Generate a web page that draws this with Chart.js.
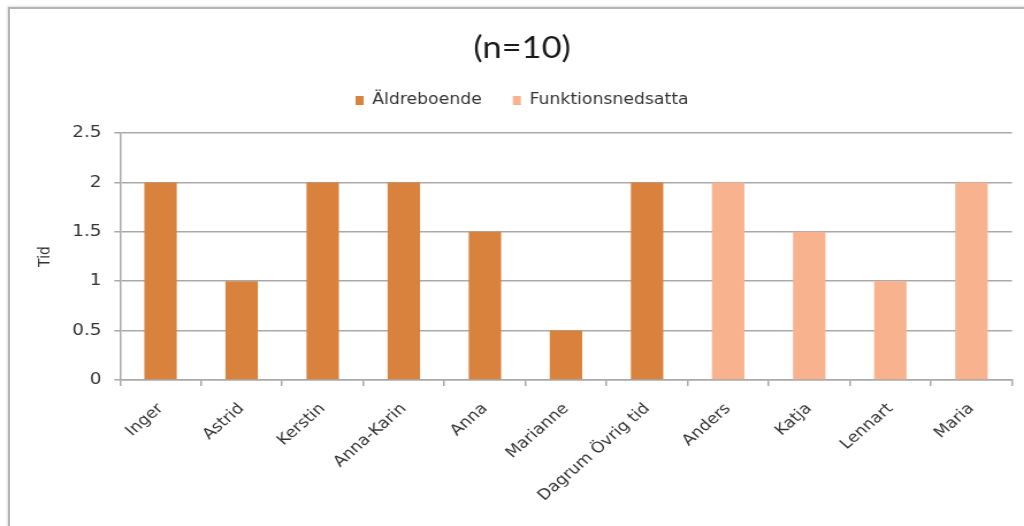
<!DOCTYPE html>
<html>
<head>
<meta charset="utf-8">
<title>(n=10)</title>
<script src="https://cdn.jsdelivr.net/npm/chart.js@4/dist/chart.umd.min.js"></script>
<style>
  html, body { margin: 0; padding: 0; background: #ffffff; }
  body { width: 1024px; height: 526px; overflow: hidden; position: relative; }
  #frame {
    position: absolute; left: 8px; top: 7px; width: 1100px; height: 600px;
    border-left: 2px solid #b4b4b4; border-top: 2px solid #b4b4b4;
    box-shadow: -1px -1px 2px rgba(0,0,0,0.12);
  }
  /* the chart is laid out 890px wide and widened to fill the 1024px page */
  #wrap {
    position: absolute; left: 0; top: 0; width: 890px; height: 526px;
    transform: scaleX(1.1506); transform-origin: 0 0;
  }
</style>
</head>
<body>
<div id="frame"></div>
<div id="wrap"><canvas id="chart" width="890" height="526"></canvas></div>
<script>
// Personer (x-axis categories)
const categories = ['Inger', 'Astrid', 'Kerstin', 'Anna-Karin', 'Anna', 'Marianne',
  'Dagrum Övrig tid', 'Anders', 'Katja', 'Lennart', 'Maria'];

// Tid per person, split by verksamhet
const aldreboende = [2, 1, 2, 2, 1.5, 0.5, 2, null, null, null, null];
const funktionsnedsatta = [null, null, null, null, null, null, null, 2, 1.5, 1, 2];

// Y-axis tick values
const yTicks = [0, 0.5, 1, 1.5, 2, 2.5];

const seriesNames = ['Äldreboende', 'Funktionsnedsatta'];
const chartTitle = '(n=10)';
const yAxisTitle = 'Tid';

const FONT = "'DejaVu Sans', 'Liberation Sans', sans-serif";
const TITLE_FONT = "Lato, 'Liberation Sans', sans-serif";
const GRID = '#a9a9a9';

new Chart(document.getElementById('chart'), {
  type: 'bar',
  data: {
    labels: categories,
    datasets: [
      { label: seriesNames[0], data: aldreboende, backgroundColor: '#d9823d' },
      { label: seriesNames[1], data: funktionsnedsatta, backgroundColor: '#f8b38e' }
    ]
  },
  options: {
    responsive: false,
    animation: false,
    devicePixelRatio: 1,
    layout: { padding: { left: 28, right: 10.5, top: 0, bottom: 0 } },
    datasets: { bar: { barPercentage: 0.4, categoryPercentage: 1.0 } },
    plugins: {
      title: {
        display: true,
        text: chartTitle,
        color: '#1a1a1a',
        font: { family: TITLE_FONT, size: 30, weight: 'normal' },
        padding: { top: 30, bottom: 0 }
      },
      subtitle: {
        // blank spacer between legend and plot area
        display: true,
        text: '',
        weight: 500,
        font: { family: FONT, size: 12.5 },
        padding: 0
      },
      legend: {
        display: true,
        position: 'top',
        labels: {
          color: '#333333',
          font: { family: FONT, size: 15 },
          boxWidth: 7,
          boxHeight: 9,
          padding: 27
        }
      },
      tooltip: { enabled: false }
    },
    scales: {
      x: {
        stacked: true,
        afterFit: (s) => { s.height = 146; },
        border: { display: true, color: GRID, width: 1.5 },
        grid: {
          offset: true,
          drawOnChartArea: false,
          drawTicks: true,
          tickLength: 6,
          color: GRID,
          lineWidth: 1.5
        },
        ticks: {
          autoSkip: false,
          minRotation: 45,
          maxRotation: 45,
          padding: 14,
          color: '#333333',
          font: { family: FONT, size: 15 }
        }
      },
      y: {
        stacked: true,
        min: 0,
        max: 2.5,
        afterFit: (s) => { s.width = 76.3; },
        afterBuildTicks: (s) => { s.ticks = yTicks.map(v => ({ value: v })); },
        border: { display: true, color: GRID, width: 1.5 },
        grid: {
          drawTicks: true,
          tickLength: 5,
          color: GRID,
          lineWidth: 1.5
        },
        ticks: {
          padding: 11,
          color: '#333333',
          font: { family: FONT, size: 16 },
          callback: (v) => String(v)
        },
        title: {
          display: true,
          text: yAxisTitle,
          color: '#333333',
          font: { family: FONT, size: 14 },
          padding: { top: 3, bottom: 0 }
        }
      }
    }
  }
});
</script>
</body>
</html>
